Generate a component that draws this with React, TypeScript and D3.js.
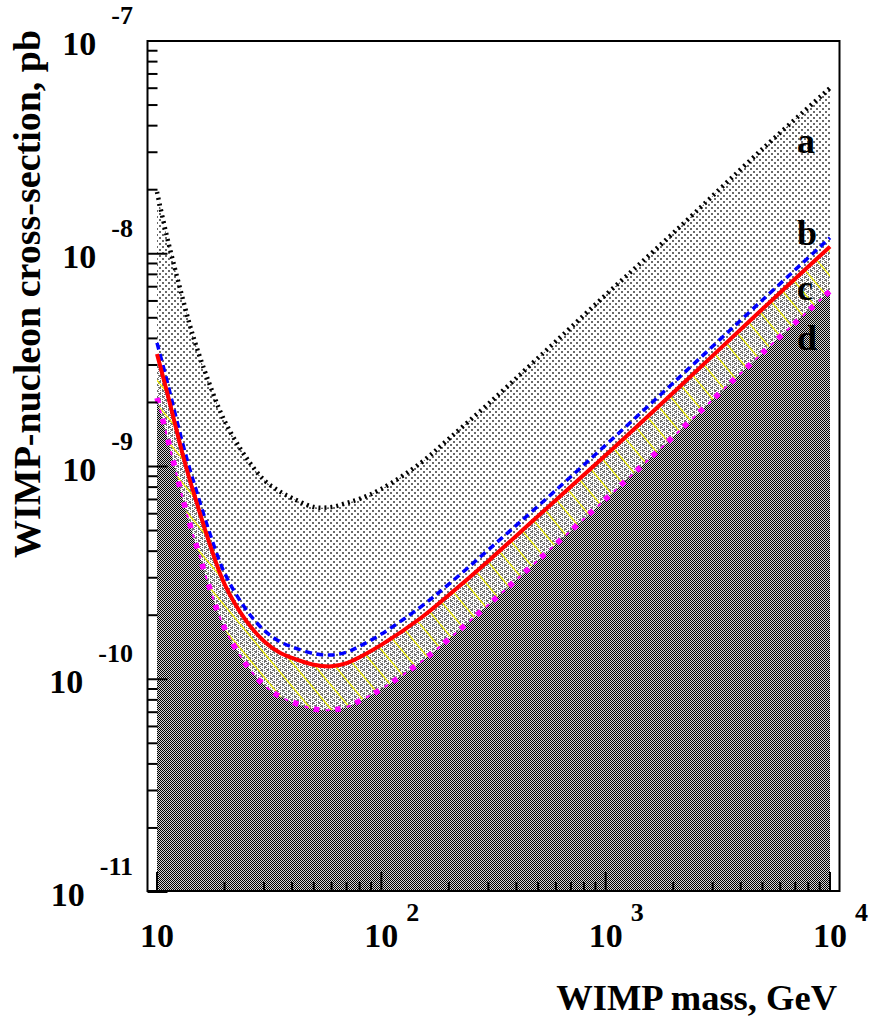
import React from 'react';
import * as d3 from 'd3';

// WIMP mass sample points (GeV)
const masses = [10, 11, 12, 13, 14, 15, 17, 20, 25, 30, 35, 40, 50, 60, 70, 80, 100, 150, 200, 300, 500, 1000, 2000, 5000, 10000];
// curve a (black dotted)
const curveA = [1.95e-8, 1.24e-8, 8.57e-9, 6.19e-9, 4.63e-9, 3.65e-9, 2.5e-9, 1.64e-9, 1.1e-9, 8.64e-10, 7.67e-10, 7.11e-10, 6.45e-10, 6.45e-10, 6.74e-10, 7.04e-10, 7.84e-10, 1.04e-9, 1.35e-9, 1.97e-9, 3.24e-9, 6.4e-9, 1.25e-8, 3.11e-8, 6.01e-8];
// curve b (blue dashed)
const curveB = [3.81e-9, 2.61e-9, 1.8e-9, 1.29e-9, 9.73e-10, 7.67e-10, 5.03e-10, 3.16e-10, 2.12e-10, 1.7e-10, 1.51e-10, 1.42e-10, 1.32e-10, 1.3e-10, 1.34e-10, 1.43e-10, 1.63e-10, 2.19e-10, 2.8e-10, 4.06e-10, 6.52e-10, 1.26e-9, 2.47e-9, 6.06e-9, 1.19e-8];
// curve c (red solid)
const curveC = [3.38e-9, 2.31e-9, 1.6e-9, 1.145e-9, 8.64e-10, 6.81e-10, 4.47e-10, 2.8e-10, 1.88e-10, 1.51e-10, 1.34e-10, 1.26e-10, 1.17e-10, 1.15e-10, 1.19e-10, 1.27e-10, 1.45e-10, 1.94e-10, 2.49e-10, 3.6e-10, 5.85e-10, 1.13e-9, 2.22e-9, 5.5e-9, 1.08e-8];
// curve d (magenta dotted)
const curveD = [2.1e-9, 1.43e-9, 9.94e-10, 7.11e-10, 5.37e-10, 4.23e-10, 2.77e-10, 1.74e-10, 1.17e-10, 9.38e-11, 8.34e-11, 7.82e-11, 7.25e-11, 7.17e-11, 7.4e-11, 7.91e-11, 9.0e-11, 1.205e-10, 1.546e-10, 2.24e-10, 3.63e-10, 7.03e-10, 1.38e-9, 3.42e-9, 6.68e-9];

const curveLabels = ['a', 'b', 'c', 'd'];
const xMajor = [10, 100, 1000, 10000];
const xExp = ['', '2', '3', '4'];
const yExp = [-7, -8, -9, -10, -11];

const FONT = "'Liberation Serif', 'Times New Roman', serif";

export default function App() {
  const x = d3.scaleLog().domain([10, 1e4]).range([157, 830]);
  const y = d3.scaleLog().domain([1e-11, 1e-7]).range([892, 41]);
  const bottom = 891;
  const cv = d3.curveCatmullRom.alpha(0.5);

  const series = (vals: number[]) => masses.map((m, i) => [m, vals[i]] as [number, number]);
  const line = d3.line<[number, number]>().x(d => x(d[0])).y(d => y(d[1])).curve(cv);
  const under = d3.area<[number, number]>().x(d => x(d[0])).y0(bottom).y1(d => y(d[1])).curve(cv);
  const bandData = masses.map((m, i) => [m, curveC[i], curveD[i]] as [number, number, number]);
  const band = d3.area<[number, number, number]>().x(d => x(d[0])).y0(d => y(d[2])).y1(d => y(d[1])).curve(cv);

  const yMinor: number[] = [];
  for (let e = -11; e < -7; e++) for (let k = 2; k <= 9; k++) yMinor.push(k * Math.pow(10, e));
  const xMinor: number[] = [];
  for (let e = 1; e < 4; e++) for (let k = 2; k <= 9; k++) xMinor.push(k * Math.pow(10, e));

  const left = 147.5, right = 839.5, top = 41;

  const labelPos = [
    { t: curveLabels[0], yb: 153 },
    { t: curveLabels[1], yb: 245 },
    { t: curveLabels[2], yb: 300 },
    { t: curveLabels[3], yb: 350 },
  ];

  return (
    <div style={{ position: 'absolute', left: 0, top: 0 }}>
      <svg width={872} height={1022} style={{ display: 'block', background: '#fff' }} fontFamily={FONT} fontWeight="bold">
        <defs>
          <pattern id="sparse" patternUnits="userSpaceOnUse" width={6} height={6}>
            <rect x={0} y={0} width={2} height={2} fill="#6a6a6a" />
            <rect x={3} y={3} width={2} height={2} fill="#6a6a6a" />
          </pattern>
          <pattern id="dense" patternUnits="userSpaceOnUse" width={4} height={2}>
            <rect x={0} y={0} width={1} height={1} fill="#777" />
            <rect x={2} y={1} width={1} height={1} fill="#777" />
          </pattern>
          <pattern id="hatch" patternUnits="userSpaceOnUse" width={20} height={24}>
            <path d="M0,0L20,24M-20,0L0,24M20,0L40,24" stroke="#f0f000" strokeWidth={1.2} />
          </pattern>
          <pattern id="checker" patternUnits="userSpaceOnUse" width={2} height={2}>
            <rect x={0} y={0} width={2} height={2} fill="#d4d4d4" />
            <rect x={0} y={0} width={1} height={1} fill="#000" />
            <rect x={1} y={1} width={1} height={1} fill="#000" />
          </pattern>
        </defs>

        {/* fills */}
        <path d={under(series(curveA)) || ''} fill="url(#sparse)" />
        <path d={band(bandData) || ''} fill="url(#dense)" />
        <path d={band(bandData) || ''} fill="url(#hatch)" />
        <path d={under(series(curveD)) || ''} fill="url(#checker)" />

        {/* curves */}
        <path d={line(series(curveA)) || ''} fill="none" stroke="#000" strokeWidth={4.5} strokeDasharray="2 4" />
        <path d={line(series(curveB)) || ''} fill="none" stroke="#0000ff" strokeWidth={3.5} strokeDasharray="7 4.5" />
        <path d={line(series(curveC)) || ''} fill="none" stroke="#ff0000" strokeWidth={4} />
        <path d={line(series(curveD)) || ''} fill="none" stroke="#ff00ff" strokeWidth={5.5} strokeDasharray="5.5 16" />
        <path d={line(series(curveD)) || ''} fill="none" stroke="#ff00ff" strokeWidth={2} strokeDasharray="4 17.5" strokeDashoffset={9.5} />

        {/* curve labels */}
        {labelPos.map(l => (
          <text key={l.t} x={797} y={l.yb} fontSize={36}>{l.t}</text>
        ))}

        {/* frame */}
        <rect x={left} y={top} width={right - left} height={bottom - top} fill="none" stroke="#000" strokeWidth={2} />

        {/* y ticks */}
        {yExp.map(e => {
          const v = Math.pow(10, e);
          return <line key={'ym' + e} x1={left} x2={left + 20} y1={y(v)} y2={y(v)} stroke="#000" strokeWidth={2} />;
        })}
        {yMinor.map(v => (
          <line key={'yn' + v} x1={left} x2={left + 10} y1={y(v)} y2={y(v)} stroke="#000" strokeWidth={2} />
        ))}
        {/* x ticks */}
        {xMajor.map(v => (
          <line key={'xm' + v} x1={x(v)} x2={x(v)} y1={bottom} y2={bottom - 19} stroke="#000" strokeWidth={2} />
        ))}
        {xMinor.map(v => (
          <line key={'xn' + v} x1={x(v)} x2={x(v)} y1={bottom} y2={bottom - 9} stroke="#000" strokeWidth={2} />
        ))}

        {/* y labels */}
        {yExp.map(e => {
          const v = Math.pow(10, e);
          return (
            <text key={'yl' + e} x={133} y={y(v) + 14} textAnchor="end">
              <tspan fontSize={34}>10</tspan>
              <tspan dx={15} dy={-31} fontSize={26}>{String(e)}</tspan>
            </text>
          );
        })}
        {/* x labels */}
        {xMajor.map((v, i) => (
          <g key={'xl' + v}>
            <text x={x(v)} y={947} textAnchor="middle" fontSize={34}>10</text>
            {xExp[i] && <text x={x(v) + 25} y={921} fontSize={26}>{xExp[i]}</text>}
          </g>
        ))}

        {/* axis titles */}
        <text x={837} y={1010} textAnchor="end" fontSize={36.5}>WIMP mass, GeV</text>
        <text transform="translate(40,558) rotate(-90)" textAnchor="start" fontSize={38}>WIMP-nucleon cross-section, pb</text>
      </svg>
    </div>
  );
}
